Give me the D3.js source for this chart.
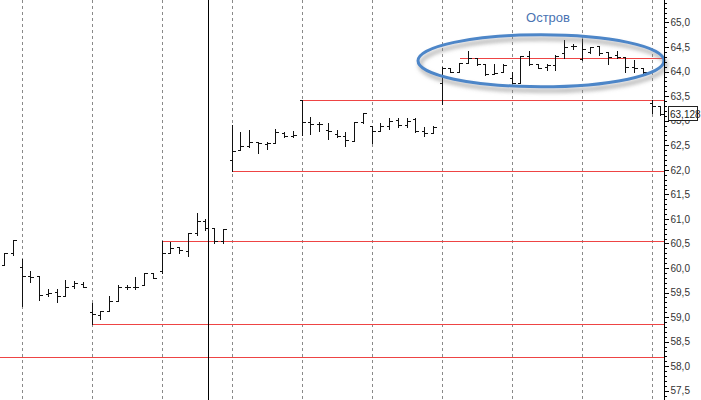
<!DOCTYPE html>
<html><head><meta charset="utf-8">
<script src="https://cdn.jsdelivr.net/npm/d3@7"></script>
<style>
html,body{margin:0;padding:0;background:#fff;}
svg{display:block;}
</style></head>
<body>
<script>
// ---- data (bar index 0..75) ----
const opens  = [60.06,60.30,60.03,59.84,59.84,59.48,59.52,59.44,59.63,59.67,
                59.11,59.04,59.12,59.33,59.62,59.61,59.65,59.90,59.93,60.31,
                60.42,60.35,60.71,60.96,60.82,60.54,62.19,62.40,62.49,62.57,
                62.52,62.55,62.74,62.68,63.42,62.98,62.93,62.81,62.73,62.68,
                62.59,62.98,62.89,62.79,62.89,63.01,62.92,63.03,62.79,62.75,
                63.76,64.08,64.00,64.17,64.27,64.15,63.95,64.00,63.86,63.76,
                64.32,64.15,64.10,64.13,64.37,64.52,64.25,64.40,64.52,64.39,
                64.34,64.29,64.10,64.07,63.37,63.29];
const highs  = [60.30,60.58,60.18,59.93,59.84,59.57,59.57,59.76,59.74,59.72,
                59.29,59.12,59.42,59.65,59.65,59.82,59.90,59.90,60.54,60.52,
                60.43,60.71,61.13,60.99,60.82,60.79,62.91,62.76,62.81,62.57,
                62.57,62.83,62.78,62.80,63.43,63.07,62.98,62.95,62.82,62.78,
                62.98,63.16,62.89,62.95,63.05,63.05,63.05,63.05,62.88,62.89,
                64.09,64.08,64.17,64.42,64.27,64.15,64.15,64.15,64.00,64.32,
                64.41,64.15,64.15,64.34,64.64,64.57,64.67,64.51,64.52,64.40,
                64.42,64.30,64.24,64.07,63.42,63.29];
const lows   = [60.06,60.27,59.23,59.72,59.35,59.42,59.31,59.43,59.59,59.61,
                58.86,58.97,59.12,59.33,59.57,59.58,59.65,59.79,59.89,60.30,
                60.30,60.24,60.67,60.77,60.50,60.50,61.98,62.40,62.47,62.35,
                62.42,62.55,62.66,62.66,62.71,62.73,62.79,62.62,62.66,62.48,
                62.59,62.96,62.55,62.79,62.84,62.88,62.88,62.78,62.69,62.74,
                63.34,64.00,64.00,64.17,64.13,63.93,63.95,64.00,63.76,63.76,
                64.13,64.07,64.03,64.03,64.27,64.45,64.24,64.37,64.34,64.15,
                64.27,64.00,64.00,63.98,63.15,63.12];
const closes = [60.30,60.58,59.84,59.81,59.46,59.50,59.44,59.62,59.69,59.62,
                59.06,59.12,59.33,59.61,59.61,59.62,59.90,59.79,60.31,60.40,
                60.36,60.71,60.96,60.82,60.54,60.79,62.39,62.48,62.57,62.54,
                62.55,62.78,62.68,62.70,62.98,62.93,62.93,62.79,62.68,62.60,
                62.98,63.15,62.79,62.89,62.99,62.91,63.00,62.79,62.74,62.88,
                64.08,64.00,64.17,64.27,64.15,63.95,63.97,64.13,63.76,64.32,
                64.15,64.08,64.13,64.32,64.50,64.52,64.45,64.50,64.37,64.30,
                64.29,64.10,64.07,64.00,63.29,63.13];

// support / resistance lines: level and starting bar index (-1 = from left edge)
const levelValues = [63.42, 61.98, 60.54, 58.86, 58.19, 64.27];
const levelStarts = [34, 26, 18, 10, -1, 52];

const gridBars = [2,10,18,26,34,42,50,58,66,74];
const majorTicks = [57.5,58.0,58.5,59.0,59.5,60.0,60.5,61.0,61.5,62.0,62.5,63.0,63.5,64.0,64.5,65.0];
const lastPrice = 63.128;
const cursorBar = 23.34;
const islandLabel = "Остров";

// ---- layout ----
const W = 701, H = 400, axisX = 664.5;
const svg = d3.select("body").append("svg").attr("width", W).attr("height", H);

const x = d3.scaleLinear().domain([2, 74]).range([21.5, 651.5]);
const y = d3.scaleLinear().domain([57.312, 65.458]).range([H, 0]);
const px = v => Math.round(v) + 0.5;

// gridlines
svg.append("g").selectAll("line").data(gridBars).join("line")
  .attr("x1", d => px(x(d))).attr("x2", d => px(x(d)))
  .attr("y1", 0).attr("y2", H)
  .attr("stroke", "#8a8a8a").attr("stroke-width", 1)
  .attr("stroke-dasharray", "3,3").attr("shape-rendering", "crispEdges");

// level lines
svg.append("g").selectAll("line").data(levelValues).join("line")
  .attr("x1", (d, i) => levelStarts[i] < 0 ? 0 : px(x(levelStarts[i])))
  .attr("x2", axisX)
  .attr("y1", d => px(y(d))).attr("y2", d => px(y(d)))
  .attr("stroke", "#ee4444").attr("stroke-width", 1)
  .attr("shape-rendering", "crispEdges");

// cursor vertical line
svg.append("line").attr("x1", px(x(cursorBar))).attr("x2", px(x(cursorBar)))
  .attr("y1", 0).attr("y2", H).attr("stroke", "#000").attr("shape-rendering", "crispEdges");

// OHLC bars
const bars = svg.append("g").attr("stroke", "#111").attr("stroke-width", 1)
  .attr("shape-rendering", "crispEdges");
opens.forEach((o, i) => {
  const cx = px(x(i));
  const g = bars.append("g");
  g.append("line").attr("x1", cx).attr("x2", cx)
    .attr("y1", Math.round(y(highs[i]))).attr("y2", Math.round(y(lows[i])) + 1);
  g.append("line").attr("x1", cx - 3).attr("x2", cx)
    .attr("y1", px(y(o))).attr("y2", px(y(o)));
  g.append("line").attr("x1", cx).attr("x2", cx + 3)
    .attr("y1", px(y(closes[i]))).attr("y2", px(y(closes[i])));
});

// ellipse with shadow
const defs = svg.append("defs");
const f = defs.append("filter").attr("id", "sh").attr("x", "-20%").attr("y", "-40%")
  .attr("width", "140%").attr("height", "180%");
f.append("feDropShadow").attr("dx", 2).attr("dy", 4).attr("stdDeviation", 2)
  .attr("flood-color", "#777").attr("flood-opacity", 0.7);
svg.append("ellipse")
  .attr("cx", (x(50) + axisX) / 2 - 12).attr("cy", y(64.22))
  .attr("rx", 123).attr("ry", 26)
  .attr("fill", "none").attr("stroke", "#4d86c8").attr("stroke-width", 3)
  .attr("filter", "url(#sh)");
svg.append("text").attr("x", 548).attr("y", 22).attr("text-anchor", "middle")
  .attr("font-family", "Liberation Sans, Arial, sans-serif").attr("font-size", 13)
  .attr("fill", "#4a73b2").text(islandLabel);

// right axis
const axis = d3.axisRight(y).tickValues(majorTicks).tickSize(4).tickPadding(2)
  .tickFormat(d => d3.format(".1f")(d).replace(".", ","));
const ag = svg.append("g").attr("transform", `translate(${axisX},0)`).call(axis);
ag.select(".domain").remove();
ag.selectAll("text").attr("font-family", "Liberation Sans, Arial, sans-serif")
  .attr("font-size", 10).attr("fill", "#333");
ag.selectAll(".tick line").attr("stroke", "#000").attr("shape-rendering", "crispEdges");
const minor = d3.range(573, 655).map(v => v / 10).filter(v => Math.abs(v * 2 - Math.round(v * 2)) > 0.01);
ag.append("g").selectAll("line").data(minor).join("line")
  .attr("x1", 0).attr("x2", 2)
  .attr("y1", d => px(y(d))).attr("y2", d => px(y(d)))
  .attr("stroke", "#000").attr("shape-rendering", "crispEdges");
svg.append("line").attr("x1", axisX).attr("x2", axisX).attr("y1", 0).attr("y2", H)
  .attr("stroke", "#000").attr("shape-rendering", "crispEdges");

// last price label
const ly = y(lastPrice);
svg.append("rect").attr("x", 668.5).attr("y", Math.round(ly) - 7.5).attr("width", 29).attr("height", 14)
  .attr("fill", "#fff").attr("stroke", "#222").attr("shape-rendering", "crispEdges");
svg.append("text").attr("x", 670).attr("y", ly + 4)
  .attr("font-family", "Liberation Sans, Arial, sans-serif").attr("font-size", 10)
  .attr("fill", "#222").text(d3.format(".3f")(lastPrice).replace(".", ","));
</script>
</body></html>
